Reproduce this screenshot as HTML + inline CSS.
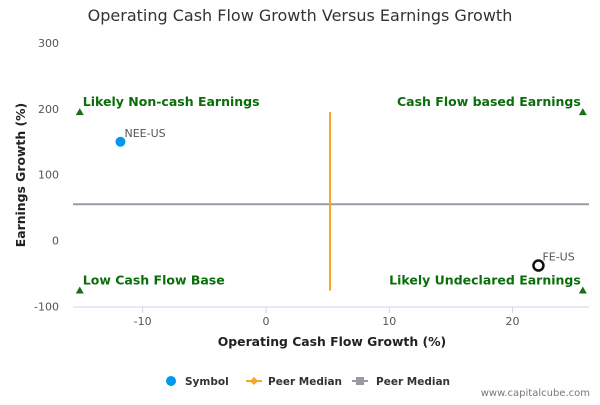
<!DOCTYPE html>
<html><head><meta charset="utf-8"><style>
body{margin:0;background:#fff}
svg text{font-family:"DejaVu Sans","Liberation Sans",sans-serif}
</style></head><body>
<svg id="c" width="600" height="400" xmlns="http://www.w3.org/2000/svg">
<text x="300" y="21" text-anchor="middle" font-size="16" fill="#333">Operating Cash Flow Growth Versus Earnings Growth</text>
<g id="plot"></g>
<text x="332" y="346" text-anchor="middle" font-size="12.4" font-weight="bold" fill="#222">Operating Cash Flow Growth (%)</text>
<text transform="translate(25,175) rotate(-90)" text-anchor="middle" font-size="12.4" font-weight="bold" fill="#222">Earnings Growth (%)</text>
<g>
<g><circle cx="171" cy="381" r="5" fill="#0098f0"/><text x="185" y="385" font-size="10.5" font-weight="bold" fill="#333">Symbol</text></g>
<g><line x1="246" y1="381" x2="262" y2="381" stroke="#f5a623" stroke-width="2"/><path d="M254,377 L258,381 L254,385 L250,381Z" fill="#f5a623"/><text x="268" y="385" font-size="10.5" font-weight="bold" fill="#333">Peer Median</text></g>
<g><line x1="352" y1="381" x2="368" y2="381" stroke="#9a9aa6" stroke-width="2"/><rect x="356" y="377" width="8" height="8" fill="#9a9aa6"/><text x="376" y="385" font-size="10.5" font-weight="bold" fill="#333">Peer Median</text></g>
</g>
<text x="590" y="396" text-anchor="end" font-size="10" fill="#777">www.capitalcube.com</text>
</svg>
<script>
const xTicks=[-10,0,10,20];
const yTicks=[-100,0,100,200,300];
const symbols=["NEE-US","FE-US"];
const ocfGrowth=[-11.8,22.1];
const epsGrowth=[150,-38];
const peerMedianX=5.2;
const peerMedianY=55;
const quadrantLabels=["Likely Non-cash Earnings","Cash Flow based Earnings","Low Cash Flow Base","Likely Undeclared Earnings"];
const xMin=-15.65,xMax=26.2,yMin=-101,yMax=300;
const L=73,R=589,T=43,B=307;
const sx=v=>L+(v-xMin)/(xMax-xMin)*(R-L);
const sy=v=>B-(v-yMin)/(yMax-yMin)*(B-T);
const g=document.getElementById('plot');const NS="http://www.w3.org/2000/svg";
function mk(t,a,p){const e=document.createElementNS(NS,t);for(const k in a)e.setAttribute(k,a[k]);(p||g).appendChild(e);return e;}
let ax=mk('line',{x1:L,y1:B,x2:R,y2:B,stroke:'#ccd6eb'});


xTicks.forEach(t=>{const e=mk('text',{x:sx(t),y:B+18,'text-anchor':'middle','font-size':11,fill:'#555'});e.textContent=t;


const tk=mk('line',{x1:sx(t),y1:B,x2:sx(t),y2:B+6,stroke:'#ccd6eb'});

});
yTicks.forEach(t=>{const e=mk('text',{x:L-14,y:sy(t)+4,'text-anchor':'end','font-size':11,fill:'#555'});e.textContent=t;

});
const hl=mk('line',{x1:L,y1:sy(peerMedianY),x2:R,y2:sy(peerMedianY),stroke:'#9a9aa6','stroke-width':2});


const vl=mk('line',{x1:sx(peerMedianX),y1:sy(195),x2:sx(peerMedianX),y2:sy(-76),stroke:'#f5a623','stroke-width':2});


const qx=[-15.1,25.7,-15.1,25.7],qy=[195,195,-76,-76];
quadrantLabels.forEach((s,i)=>{const x=sx(qx[i]),y=sy(qy[i]);
const tr=mk('path',{d:`M${x},${y-4} L${x+4},${y+3} L${x-4},${y+3}Z`,fill:'#1a6e1a'});


const left=i%2==0;const t=mk('text',{x:left?x+3:x-2,y:y-6,'text-anchor':left?'start':'end','font-size':12.5,'font-weight':'bold',fill:'#0a6e0a'});t.textContent=s;

});
symbols.forEach((s,i)=>{const x=sx(ocfGrowth[i]),y=sy(epsGrowth[i]);
const c=i==0?mk('circle',{cx:x,cy:y,r:5,fill:'#0098f0'}):mk('circle',{cx:x,cy:y,r:5,fill:'#fff',stroke:'#111','stroke-width':2.5});


const t=mk('text',{x:x+4,y:y-5,'font-size':11,fill:'#555'});t.textContent=s;

});
</script>
</body></html>
